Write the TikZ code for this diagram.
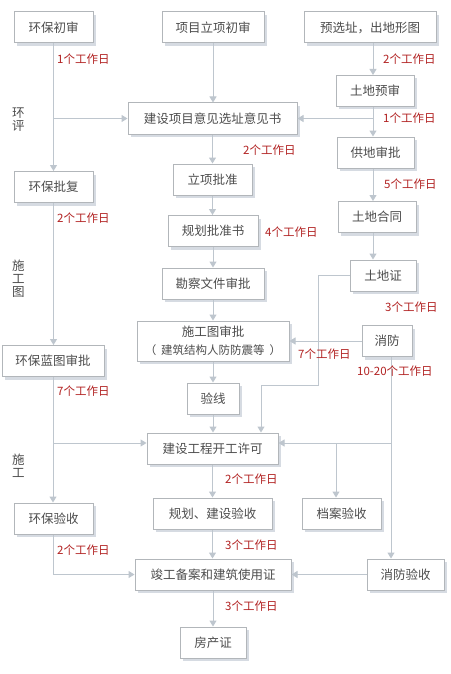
\documentclass[tikz,border=0pt]{standalone}
\usepackage{fontspec}
\newfontfamily\cjk{Noto Sans CJK SC}
\usetikzlibrary{arrows.meta, shadows}
\definecolor{linec}{RGB}{190,198,206}
\definecolor{boxc}{RGB}{178,182,186}
\definecolor{shadowc}{RGB}{214,219,226}
\definecolor{textc}{RGB}{77,77,77}
\definecolor{dayc}{RGB}{178,34,34}

\begin{document}
\begin{tikzpicture}[
  x=1pt, y=-1pt,
  box/.style={draw=boxc, line width=1pt, fill=white, minimum height=31pt, inner sep=0pt,
              align=center, text=textc, font=\cjk\fontsize{12.5}{18}\selectfont,
              drop shadow={shadow xshift=3pt, shadow yshift=-3pt, fill=shadowc, opacity=1}},
  arr/.style={-{Triangle[length=6pt, width=7pt]}, draw=linec, line width=1pt},
  days/.style={anchor=west, inner sep=0pt, text=dayc, font=\cjk\fontsize{11.5}{13}\selectfont},
  side/.style={align=center, inner sep=0pt, text=textc, font=\cjk\fontsize{12.5}{13}\selectfont},
]
\fill[white] (0,0) rectangle (450,674);
\useasboundingbox (0,0) rectangle (450,674);

% boxes, top to bottom
\node[box, minimum width=79pt]  (hbcs) at (53.5,27.5)  {环保初审};
\node[box, minimum width=102pt] (xmlx) at (213,27.5)   {项目立项初审};
\node[box, minimum width=132pt] (yxz)  at (370,27.5)   {预选址，出地形图};
\node[box, minimum width=78pt]  (tdys) at (375,91)     {土地预审};
\node[box, minimum width=169pt] (yjs)  at (212.5,118.5) {建设项目意见选址意见书};
\node[box, minimum width=77pt]  (gdsp) at (375.5,152.5) {供地审批};
\node[box, minimum width=79pt]  (hbpf) at (53.5,187)   {环保批复};
\node[box, minimum width=79pt]  (lxpz) at (212.5,179.5) {立项批准};
\node[box, minimum width=78pt]  (tdht) at (377,217)    {土地合同};
\node[box, minimum width=90pt]  (ghpz) at (213,231)    {规划批准书};
\node[box, minimum width=66pt]  (tdz)  at (383,275.5)  {土地证};
\node[box, minimum width=102pt] (kcsp) at (213,283.5)  {勘察文件审批};
\node[box, minimum width=152pt, minimum height=40pt] (sgtsp) at (213,341)
  {施工图审批\\{\fontsize{11.5}{14}\selectfont （\hspace{5pt}建筑结构人防防震等\hspace{5pt}）}};
\node[box, minimum width=50pt]  (xf)   at (387,341)    {消防};
\node[box, minimum width=102pt] (hblt) at (53,361)     {环保蓝图审批};
\node[box, minimum width=52pt]  (yx)   at (213,398.5)  {验线};
\node[box, minimum width=131pt] (kgxk) at (212.5,448.5) {建设工程开工许可};
\node[box, minimum width=119pt] (ghys) at (212.5,513.5) {规划、建设验收};
\node[box, minimum width=79pt]  (days) at (341.5,513.5) {档案验收};
\node[box, minimum width=79pt]  (hbys) at (53.5,518.5) {环保验收};
\node[box, minimum width=156pt] (jgba) at (213,574.5)  {竣工备案和建筑使用证};
\node[box, minimum width=77pt]  (xfys) at (405.5,574.5) {消防验收};
\node[box, minimum width=66pt]  (fcz)  at (213,642.5)  {房产证};

% stage names on the left
\node[side] (hp)  at (18.5,119.5) {环\\评};
\node[side] (sgt) at (18.5,279)   {施\\工\\图};
\node[side] (sg)  at (18.5,465.5) {施\\工};

\coordinate (rcol) at (373,0);
\coordinate (fcol) at (391,0);
\coordinate (dcol) at (336,0);
\coordinate (kgx)  at (261,0);
\coordinate (kgy)  at (0,443);
\coordinate (tdzbend) at (318,385);

% middle column
\foreach \a/\b in {xmlx/yjs, yjs/lxpz, lxpz/ghpz, ghpz/kcsp, kcsp/sgtsp,
                   sgtsp/yx, yx/kgxk, kgxk/ghys, ghys/jgba, jgba/fcz}
  \draw[arr] (\a.south) -- (\a.south |- \b.north);

% right column
\foreach \a/\b in {yxz/tdys, tdys/gdsp, gdsp/tdht, tdht/tdz}
  \draw[arr] (rcol |- \a.south) -- (rcol |- \b.north);
\draw[arr] (rcol |- yjs) -- (yjs.east);
\draw[arr] (tdz.west) -| (tdzbend) -| (kgx |- kgxk.north);
\draw[arr] (xf.west) -- (sgtsp.east);
\draw[arr] (fcol |- xf.south) -- (fcol |- xfys.north);
\draw[arr] (fcol |- kgy) -- (kgy -| kgxk.east);
\draw[arr] (dcol |- kgy) -- (dcol |- days.north);
\draw[arr] (xfys.west) -- (jgba.east);

% left column
\draw[arr] (hbcs) -- (hbpf);
\draw[arr] (hbcs |- yjs) -- (yjs.west);
\draw[arr] (hbpf.south) -- (hbpf.south |- hblt.north);
\draw[arr] (hblt.south) -- (hblt.south |- hbys.north);
\draw[arr] (hblt.south |- kgy) -- (kgy -| kgxk.west);
\draw[arr] (hbys.south) |- (jgba.west);

% working days
\node[days] (d1)  at (57,59)   {1个工作日};
\node[days] (d2)  at (383,59)  {2个工作日};
\node[days] (d3)  at (383,118) {1个工作日};
\node[days] (d4)  at (243,150) {2个工作日};
\node[days] (d5)  at (384,184) {5个工作日};
\node[days] (d6)  at (57,218)  {2个工作日};
\node[days] (d7)  at (265,232) {4个工作日};
\node[days] (d8)  at (385,307) {3个工作日};
\node[days] (d9)  at (298,354) {7个工作日};
\node[days] (d10) at (357,371) {10-20个工作日};
\node[days] (d11) at (57,391)  {7个工作日};
\node[days] (d12) at (225,479) {2个工作日};
\node[days] (d13) at (225,545) {3个工作日};
\node[days] (d14) at (57,550)  {2个工作日};
\node[days] (d15) at (225,606) {3个工作日};

\end{tikzpicture}
\end{document}
